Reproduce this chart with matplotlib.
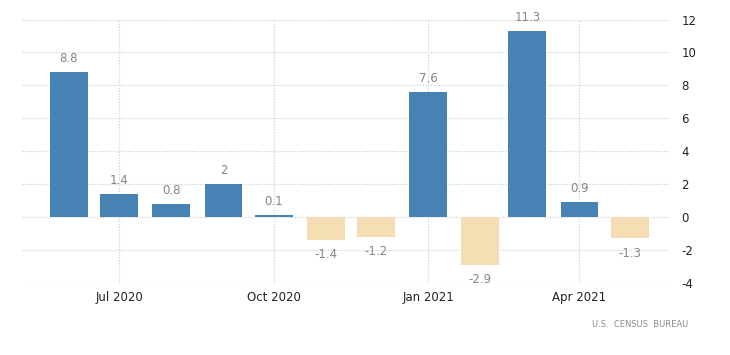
import matplotlib
matplotlib.use("Agg")
import matplotlib.pyplot as plt
import matplotlib.dates as mdates
import numpy as np
from datetime import datetime

plt.rcParams["axes.unicode_minus"] = False

months = ["2020-06", "2020-07", "2020-08", "2020-09", "2020-10", "2020-11",
          "2020-12", "2021-01", "2021-02", "2021-03", "2021-04", "2021-05"]
values = [8.8, 1.4, 0.8, 2, 0.1, -1.4, -1.2, 7.6, -2.9, 11.3, 0.9, -1.3]
labels = ["8.8", "1.4", "0.8", "2", "0.1", "-1.4", "-1.2", "7.6", "-2.9", "11.3", "0.9", "-1.3"]
tick_dates = ["2020-07", "2020-10", "2021-01", "2021-04"]
tick_labels = ["Jul 2020", "Oct 2020", "Jan 2021", "Apr 2021"]
yticks = [-4, -2, 0, 2, 4, 6, 8, 10, 12]

x = mdates.date2num([datetime.strptime(m, "%Y-%m") for m in months])
xt = mdates.date2num([datetime.strptime(m, "%Y-%m") for m in tick_dates])
colors = ["#4682b4" if v >= 0 else "#f5deb3" for v in values]

fig = plt.figure(figsize=(7.3, 3.55), dpi=100)
ax = fig.add_axes([0.030, 0.203, 0.888, 0.742])

ax.bar(x, values, width=22.5, color=colors, zorder=3)

for xi, v, lab in zip(x, values, labels):
    if v >= 0:
        ax.annotate(lab, (xi, v), xytext=(0, 5), textcoords="offset points",
                    ha="center", va="bottom", fontsize=8.5, color="#858585")
    else:
        ax.annotate(lab, (xi, v), xytext=(0, -6), textcoords="offset points",
                    ha="center", va="top", fontsize=8.5, color="#858585")

ax.set_xlim(x[0] - 28, x[-1] + 24)
ax.set_ylim(-4, 12)
ax.set_yticks(yticks)
ax.set_xticks(xt)
ax.set_xticklabels(tick_labels)

ax.yaxis.tick_right()
ax.tick_params(axis="y", length=0, pad=8, labelsize=8.5, colors="#222222")
ax.tick_params(axis="x", length=0, pad=6, labelsize=8.5, colors="#222222")

ax.grid(True, axis="both", linestyle=(0, (1, 1.5)), color="#cccccc", linewidth=0.8, zorder=0)
for s in ax.spines.values():
    s.set_visible(False)

fig.text(0.943, 0.085, "U.S.  CENSUS  BUREAU", ha="right", va="center",
         fontsize=6, color="#8c8c8c")

fig.savefig("out.png", dpi=100)
